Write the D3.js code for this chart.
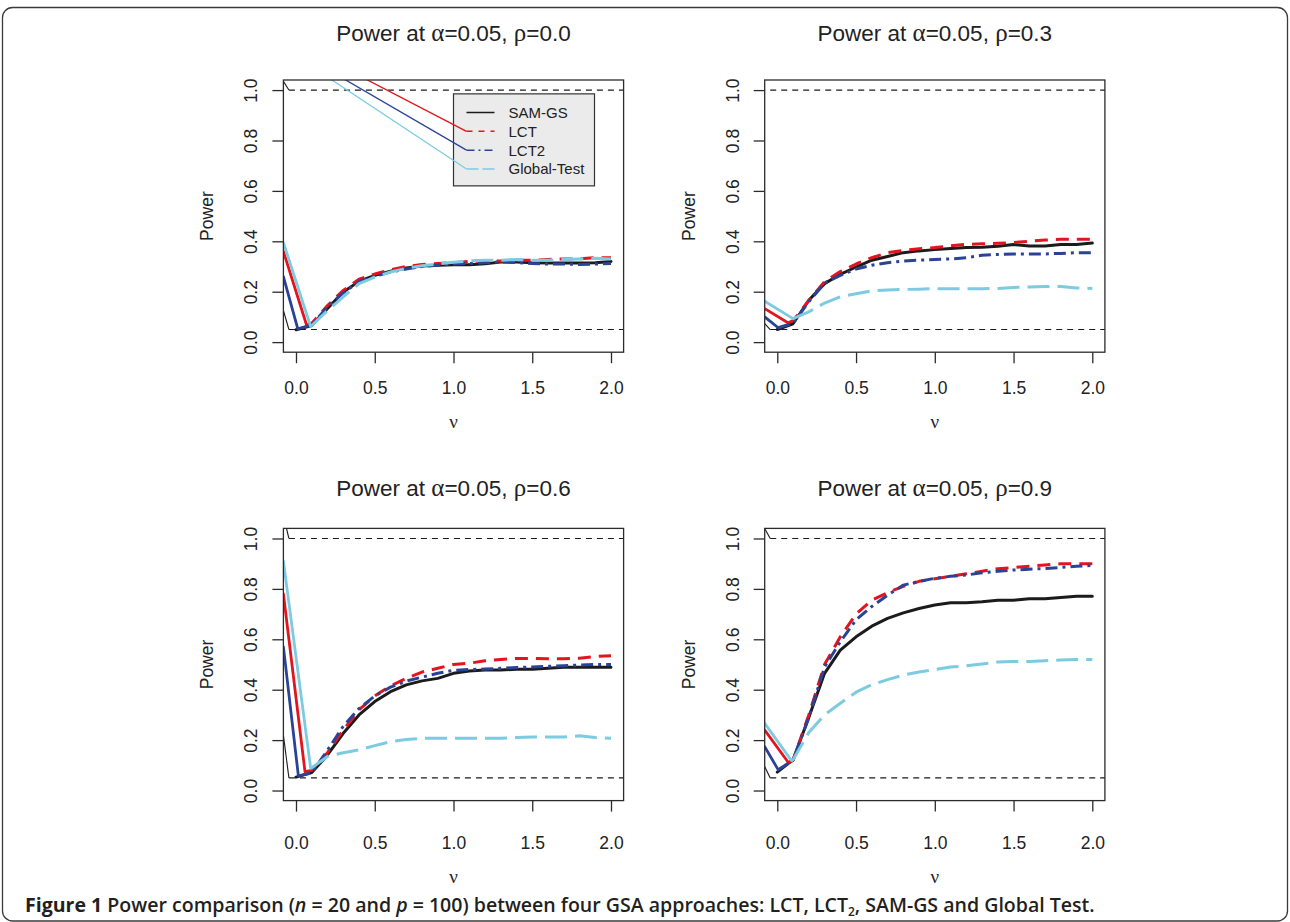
<!DOCTYPE html>
<html>
<head>
<meta charset="utf-8">
<script src="https://cdn.jsdelivr.net/npm/d3@7/dist/d3.min.js"></script>
<style>
  body { margin: 0; background: #fff; }
  svg { display: block; }
</style>
</head>
<body>
<div id="chart"></div>
<script>
// nu values shared by every curve (the first point of each curve is in start_*)
var nuGrid = [0.1,0.2,0.3,0.4,0.5,0.6,0.7,0.8,0.9,1.0,1.1,1.2,1.3,1.4,1.5,1.6,1.7,1.8,1.9,2.0];
var seriesNames = ["SAM-GS", "LCT", "LCT2", "Global-Test"];
var seriesColors = ["#1b1b1b", "#e3141d", "#2a4396", "#7ccbe0"];
var seriesDash = [null, "13,8", "12,5,3,5", "22,8"];
var legendDash = [null, "6,6", "8,4,2,4", "12,4"];
var rhoLabels = ["0.0", "0.3", "0.6", "0.9"];
var refLevels = [1.0, 0.05];
var yTicks = [0, 0.2, 0.4, 0.6, 0.8, 1.0];
var xTicks = [0, 0.5, 1.0, 1.5, 2.0];

// power at nuGrid, rho = 0.0
var samgs_rho00 = [0.066,0.133,0.199,0.241,0.265,0.281,0.294,0.302,0.305,0.307,0.307,0.311,0.318,0.318,0.315,0.314,0.314,0.314,0.315,0.320];
var lct_rho00   = [0.075,0.145,0.205,0.250,0.270,0.287,0.300,0.308,0.312,0.315,0.320,0.322,0.322,0.325,0.325,0.328,0.330,0.330,0.335,0.335];
var lct2_rho00  = [0.068,0.140,0.195,0.240,0.262,0.278,0.290,0.300,0.305,0.310,0.312,0.315,0.318,0.316,0.312,0.310,0.310,0.308,0.310,0.312];
var gt_rho00    = [0.066,0.125,0.180,0.232,0.258,0.278,0.293,0.303,0.310,0.317,0.322,0.325,0.325,0.328,0.325,0.325,0.328,0.330,0.333,0.330];
// rho = 0.3
var samgs_rho03 = [0.073,0.166,0.232,0.269,0.298,0.325,0.340,0.355,0.362,0.367,0.371,0.375,0.376,0.380,0.387,0.381,0.381,0.387,0.387,0.393];
var lct_rho03   = [0.085,0.165,0.240,0.280,0.310,0.335,0.355,0.364,0.370,0.375,0.382,0.388,0.390,0.392,0.395,0.400,0.405,0.408,0.408,0.408];
var lct2_rho03  = [0.075,0.160,0.235,0.265,0.290,0.305,0.315,0.322,0.325,0.328,0.330,0.335,0.345,0.348,0.350,0.350,0.350,0.352,0.355,0.355];
var gt_rho03    = [0.093,0.120,0.155,0.180,0.192,0.203,0.207,0.209,0.210,0.212,0.212,0.212,0.212,0.213,0.217,0.219,0.221,0.221,0.215,0.213];
// rho = 0.6
var samgs_rho06 = [0.071,0.141,0.227,0.300,0.353,0.392,0.419,0.435,0.445,0.465,0.474,0.478,0.478,0.481,0.481,0.485,0.489,0.489,0.489,0.489];
var lct_rho06   = [0.080,0.150,0.240,0.320,0.375,0.415,0.445,0.470,0.485,0.500,0.505,0.515,0.520,0.524,0.524,0.523,0.523,0.525,0.532,0.535];
var lct2_rho06  = [0.070,0.160,0.255,0.325,0.375,0.410,0.434,0.450,0.465,0.477,0.480,0.482,0.485,0.488,0.490,0.493,0.495,0.498,0.500,0.500];
var gt_rho06    = [0.090,0.135,0.150,0.161,0.178,0.194,0.202,0.207,0.207,0.207,0.207,0.207,0.207,0.210,0.212,0.212,0.212,0.217,0.210,0.207];
// rho = 0.9
var samgs_rho09 = [0.122,0.290,0.465,0.557,0.610,0.652,0.683,0.705,0.722,0.736,0.745,0.745,0.749,0.755,0.755,0.761,0.761,0.766,0.771,0.771];
var lct_rho09   = [0.120,0.300,0.500,0.610,0.700,0.755,0.785,0.810,0.830,0.840,0.850,0.860,0.870,0.880,0.885,0.890,0.895,0.900,0.900,0.900];
var lct2_rho09  = [0.120,0.290,0.490,0.590,0.677,0.730,0.775,0.815,0.830,0.842,0.850,0.855,0.864,0.870,0.875,0.878,0.881,0.885,0.890,0.893];
var gt_rho09    = [0.122,0.230,0.300,0.346,0.390,0.420,0.440,0.458,0.470,0.480,0.490,0.495,0.502,0.510,0.512,0.512,0.515,0.518,0.520,0.520];

// start of each curve: [power where it enters at the left edge, nu of first point, power of first point]
var start_rho00 = [[null,0,0.049],[0.36,0.068,0.066],[0.26,0.012,0.052],[0.395,0.093,0.062]];
var start_rho03 = [[null,0,0.050],[0.133,0.07,0.076],[0.10,0.006,0.057],[0.162,0.10,0.093]];
var start_rho06 = [[null,0,0.053],[0.78,0.057,0.075],[0.57,0.015,0.058],[0.91,0.093,0.089]];
var start_rho09 = [[null,0,0.073],[0.24,0.07,0.111],[0.174,0.006,0.082],[0.267,0.09,0.119]];

// thin strokes that run into the start of the reference lines (1.0, 0.05), power at left edge
var refLead = [[1.035,0.126],[null,0.073],[1.09,0.22],[1.04,0.095]];
// thin strokes running into the legend keys, from (nu, power) above the plot
var legendLead = [null, [-0.04,1.2], [-0.125,1.2], [-0.159,1.2]];

var panels = [
  {rho: rhoLabels[0], series: [samgs_rho00, lct_rho00, lct2_rho00, gt_rho00], start: start_rho00, lead: refLead[0]},
  {rho: rhoLabels[1], series: [samgs_rho03, lct_rho03, lct2_rho03, gt_rho03], start: start_rho03, lead: refLead[1]},
  {rho: rhoLabels[2], series: [samgs_rho06, lct_rho06, lct2_rho06, gt_rho06], start: start_rho06, lead: refLead[2]},
  {rho: rhoLabels[3], series: [samgs_rho09, lct_rho09, lct2_rho09, gt_rho09], start: start_rho09, lead: refLead[3]}
];

var width = 1290, height = 922;
var colLeft = [283.4, 764.7];
var rowTop = [80, 528.4];
var plotW = 340.2, plotH = 272.2;
var titleY = [41, 496];     // title baselines
var xtickY = [388, 843];    // x tick label centres
var xlabY = [421, 876];     // nu label centres
var sans = "'Liberation Sans', Arial, Helvetica, sans-serif";
var serif = "'Liberation Serif', 'Times New Roman', serif";

var svg = d3.select("#chart").append("svg")
  .attr("width", width).attr("height", height);

// outer frame
svg.append("rect")
  .attr("x", 2.5).attr("y", 7.5).attr("width", 1285).attr("height", 913.5)
  .attr("rx", 10).attr("fill", "none").attr("stroke", "#3a3a3a").attr("stroke-width", 1.3);

panels.forEach(function (p, k) {
  var col = k % 2, row = Math.floor(k / 2);
  var left = colLeft[col], top = rowTop[row];

  var x = d3.scaleLinear().domain([-0.08, 2.08]).range([left, left + plotW]);
  var y = d3.scaleLinear().domain([-0.04, 1.04]).range([top + plotH, top]);
  var xmin = x.domain()[0];

  var g = svg.append("g");
  var clipId = "clip" + k;
  g.append("clipPath").attr("id", clipId)
    .append("rect").attr("x", left).attr("y", top).attr("width", plotW).attr("height", plotH);
  var inner = g.append("g").attr("clip-path", "url(#" + clipId + ")");

  var line = d3.line().x(function (d) { return x(d[0]); }).y(function (d) { return y(d[1]); });

  // curves
  p.series.forEach(function (vals, s) {
    var st = p.start[s];
    var pts = [[st[1], st[2]]];
    nuGrid.forEach(function (n, i) { pts.push([n, vals[i]]); });
    // solid entry stroke from the left edge down to the first point
    if (st[0] !== null) {
      inner.append("path")
        .attr("d", line([[xmin, st[0]], [st[1], st[2]]]))
        .attr("fill", "none")
        .attr("stroke", seriesColors[s])
        .attr("stroke-width", 2.8)
        .attr("stroke-linecap", "round");
    }
    inner.append("path")
      .attr("d", line(pts))
      .attr("fill", "none")
      .attr("stroke", seriesColors[s])
      .attr("stroke-width", 3)
      .attr("stroke-linejoin", "round")
      .attr("stroke-linecap", seriesDash[s] ? "butt" : "round")
      .attr("stroke-dasharray", seriesDash[s]);
  });

  // reference lines
  refLevels.forEach(function (lev, r) {
    if (p.lead[r] !== null) {
      inner.append("path")
        .attr("d", line([[xmin, p.lead[r]], [-0.045, lev]]))
        .attr("fill", "none").attr("stroke", "#1b1b1b").attr("stroke-width", 1.1);
    }
    inner.append("path")
      .attr("d", line([[-0.045, lev], [2.2, lev]]))
      .attr("fill", "none").attr("stroke", "#1b1b1b").attr("stroke-width", 1.1)
      .attr("stroke-dasharray", "6,5");
  });

  // legend (first panel only)
  if (k === 0) {
    var bx = x(1.0), by = y(0.985);
    inner.append("rect")
      .attr("x", bx).attr("y", by).attr("width", 141).attr("height", 92)
      .attr("fill", "#ebebeb").attr("stroke", "#333").attr("stroke-width", 1.2);
    seriesNames.forEach(function (name, s) {
      var ly = by + 18.7 + s * 18.8;
      if (legendLead[s]) {
        inner.append("line")
          .attr("x1", x(legendLead[s][0])).attr("y1", y(legendLead[s][1]))
          .attr("x2", bx + 13).attr("y2", ly)
          .attr("stroke", seriesColors[s]).attr("stroke-width", 1.3);
      }
      inner.append("line")
        .attr("x1", bx + 13).attr("x2", bx + 41).attr("y1", ly).attr("y2", ly)
        .attr("stroke", seriesColors[s]).attr("stroke-width", 1.5)
        .attr("stroke-dasharray", legendDash[s]);
      inner.append("text")
        .attr("x", bx + 55).attr("y", ly)
        .attr("dominant-baseline", "central")
        .style("font-family", sans).style("font-size", "15px").style("fill", "#222")
        .text(name);
    });
  }

  // box
  g.append("rect")
    .attr("x", left).attr("y", top).attr("width", plotW).attr("height", plotH)
    .attr("fill", "none").attr("stroke", "#2b2b2b").attr("stroke-width", 1.3);

  // axes
  var yAxis = d3.axisLeft(y).tickValues(yTicks).tickSize(11).tickFormat(d3.format(".1f"));
  var ya = g.append("g").attr("transform", "translate(" + left + ",0)").call(yAxis);
  ya.select(".domain").remove();
  ya.selectAll("line").attr("stroke", "#2b2b2b").attr("stroke-width", 1.3);
  ya.selectAll("text")
    .attr("x", null).attr("dy", null)
    .attr("transform", "translate(-32,0) rotate(-90)")
    .attr("text-anchor", "middle").attr("dominant-baseline", "central")
    .style("font-family", sans).style("font-size", "17.5px").style("fill", "#222");

  var xAxis = d3.axisBottom(x).tickValues(xTicks).tickSize(11).tickFormat(d3.format(".1f"));
  var xa = g.append("g").attr("transform", "translate(0," + (top + plotH) + ")").call(xAxis);
  xa.select(".domain").remove();
  xa.selectAll("line").attr("stroke", "#2b2b2b").attr("stroke-width", 1.3);
  xa.selectAll("text")
    .attr("y", xtickY[row] - (top + plotH)).attr("dy", null)
    .attr("dominant-baseline", "central")
    .style("font-family", sans).style("font-size", "17.5px").style("fill", "#222");

  // title
  var t = g.append("text")
    .attr("x", left + plotW / 2).attr("y", titleY[row])
    .attr("text-anchor", "middle")
    .style("font-family", sans).style("font-size", "22.5px").style("fill", "#222");
  t.append("tspan").text("Power at ");
  t.append("tspan").style("font-family", serif).style("font-size", "25px").text("\u03b1");
  t.append("tspan").text("=0.05, ");
  t.append("tspan").style("font-family", serif).style("font-size", "25px").text("\u03c1");
  t.append("tspan").text("=" + p.rho);

  // axis titles
  g.append("text")
    .attr("x", left + plotW / 2).attr("y", xlabY[row])
    .attr("text-anchor", "middle").attr("dominant-baseline", "central")
    .style("font-family", serif).style("font-size", "19px").style("fill", "#222")
    .text("\u03bd");
  g.append("text")
    .attr("transform", "translate(" + (left - 76) + "," + (top + plotH / 2) + ") rotate(-90)")
    .attr("text-anchor", "middle").attr("dominant-baseline", "central")
    .style("font-family", sans).style("font-size", "17.5px").style("fill", "#222")
    .text("Power");
});

// caption
var cap = svg.append("text")
  .attr("x", 25).attr("y", 912)
  .style("font-family", "'Open Sans', 'Noto Sans', sans-serif")
  .style("font-size", "17px").style("font-weight", 600).style("fill", "#231f20");
cap.append("tspan").style("font-weight", 700).text("Figure 1");
cap.append("tspan").text(" Power comparison (");
cap.append("tspan").style("font-style", "italic").text("n");
cap.append("tspan").text(" = 20 and ");
cap.append("tspan").style("font-style", "italic").text("p");
cap.append("tspan").text(" = 100) between four GSA approaches: LCT, LCT");
cap.append("tspan").attr("dy", 4).style("font-size", "12px").text("2");
cap.append("tspan").attr("dy", -4).text(", SAM-GS and Global Test.");
var capLen = cap.node().getComputedTextLength();
cap.style("font-size", (17 * 1072 / capLen) + "px");
</script>
</body>
</html>
